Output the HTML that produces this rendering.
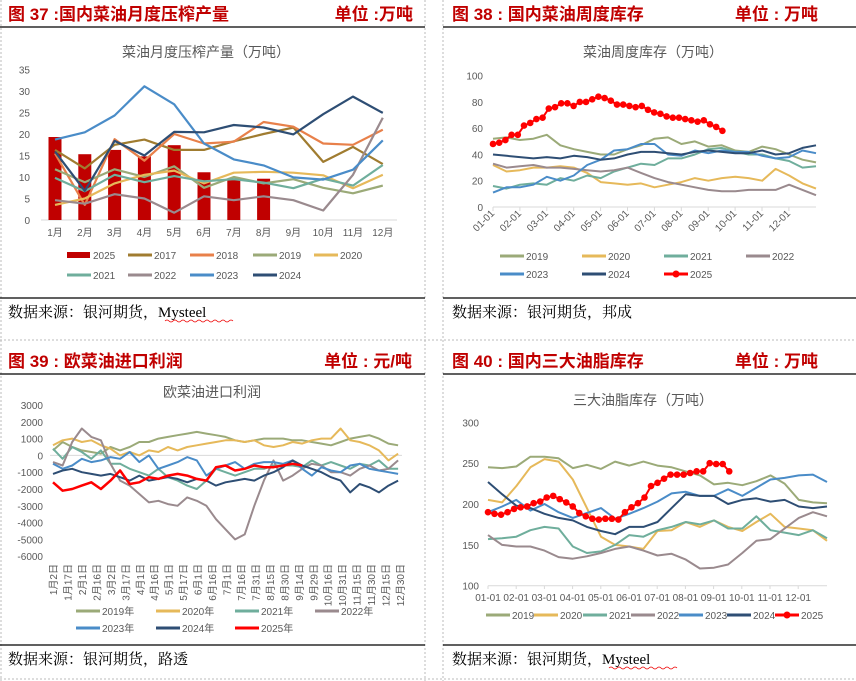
<!DOCTYPE html>
<html><head><meta charset="utf-8"><style>
body{margin:0;background:#fff;width:856px;height:681px;overflow:hidden}
svg{display:block;font-family:"Liberation Sans","Noto Sans CJK SC",sans-serif}
.hd{font-size:17px;font-weight:bold;fill:#C00000}
.src{font-size:15px;fill:#000;font-family:"Liberation Serif","Noto Serif CJK SC",serif}
.tt{font-size:14px;fill:#595959}
.ax{font-size:10px;fill:#595959}
.lg{font-size:10px;fill:#595959}
</style></head><body>
<svg id="s" width="856" height="681" viewBox="0 0 856 681">
<g stroke="#bbb" stroke-dasharray="2,2" fill="none">
<line x1="1" y1="0" x2="1" y2="681"/><line x1="443" y1="0" x2="443" y2="681"/><line x1="0" y1="340" x2="856" y2="340"/><line x1="0" y1="679" x2="856" y2="679"/><line x1="425" y1="0" x2="425" y2="681"/>
</g>
<g>
<text class="hd" x="8" y="20">图 37 :国内菜油月度压榨产量</text><text class="hd" x="413" y="20" text-anchor="end">单位 :万吨</text>
<line x1="0" y1="27" x2="425" y2="27" stroke="#000" stroke-width="1.3"/><line x1="0" y1="298" x2="425" y2="298" stroke="#000" stroke-width="1.3"/>
<text class="src" x="8" y="317">数据来源：银河期货，Mysteel</text>
</g>
<g>
<text class="hd" x="452" y="20">图 38 : 国内菜油周度库存</text><text class="hd" x="818" y="20" text-anchor="end">单位 : 万吨</text>
<line x1="443" y1="27" x2="856" y2="27" stroke="#000" stroke-width="1.3"/><line x1="443" y1="298" x2="856" y2="298" stroke="#000" stroke-width="1.3"/>
<text class="src" x="452" y="317">数据来源：银河期货，邦成</text>
</g>
<g>
<text class="hd" x="8" y="367">图 39 : 欧菜油进口利润</text><text class="hd" x="412" y="367" text-anchor="end">单位 : 元/吨</text>
<line x1="0" y1="374" x2="425" y2="374" stroke="#000" stroke-width="1.3"/><line x1="0" y1="645" x2="425" y2="645" stroke="#000" stroke-width="1.3"/>
<text class="src" x="8" y="664">数据来源：银河期货，路透</text>
</g>
<g>
<text class="hd" x="452" y="367">图 40 : 国内三大油脂库存</text><text class="hd" x="818" y="367" text-anchor="end">单位 : 万吨</text>
<line x1="443" y1="374" x2="856" y2="374" stroke="#000" stroke-width="1.3"/><line x1="443" y1="645" x2="856" y2="645" stroke="#000" stroke-width="1.3"/>
<text class="src" x="452" y="664">数据来源：银河期货，Mysteel</text>
</g>
<path d="M165 321 q2 -2 4 0 t4 0 t4 0 t4 0 t4 0 t4 0 t4 0 t4 0 t4 0 t4 0 t4 0 t4 0 t4 0 t4 0 t4 0 t4 0 t4 0" stroke="#e00" fill="none" stroke-width="0.8"/>
<path d="M609 668 q2 -2 4 0 t4 0 t4 0 t4 0 t4 0 t4 0 t4 0 t4 0 t4 0 t4 0 t4 0 t4 0 t4 0 t4 0 t4 0 t4 0 t4 0" stroke="#e00" fill="none" stroke-width="0.8"/>
</svg>
<script>
// ---------- Chart 37 data ----------
const months37 = ["1月","2月","3月","4月","5月","6月","7月","8月","9月","10月","11月","12月"];
const ticks37 = [0,5,10,15,20,25,30,35];
const bars2025 = [19.3,15.3,16.3,14.8,17.4,11.1,9.6,9.6];
const p37_2017 = [16.3,12,17.5,18.7,16.3,16.3,18.3,20,21.5,13.5,17,13];
const p37_2018 = [15.5,3.5,18.8,13.8,20,17.8,18.2,22.8,21.7,17.8,17.5,21];
const p37_2019 = [11.8,8.8,11.8,10,12.5,7.5,10,8.5,9.5,7.5,6.2,8];
const p37_2020 = [3.5,5,8.5,10.5,11.5,8.5,11,11.2,11,10.4,7.4,10.5];
const p37_2021 = [9.8,6.7,10.5,8.8,10.2,9,9.5,8.7,7.4,9.6,8,12.8];
const p37_2022 = [4.6,3.8,6,5,1.7,5.5,4.6,5.5,4.6,2.2,10.5,23.8];
const p37_2023 = [18.7,20.4,24.3,31.1,26.9,17.8,14.1,12.7,9.9,9.4,11.7,18.5];
const p37_2024 = [15.9,6.8,18.4,15,20.5,20.4,22.1,21.5,19.9,24.6,28.7,24.9];
// ---------- Chart 38 data (half-month grid, 2025 weekly) ----------
const ticks38 = [0,20,40,60,80,100];
const mlab = ["01-01","02-01","03-01","04-01","05-01","06-01","07-01","08-01","09-01","10-01","11-01","12-01"];
const p38_2019 = [52,53,51,52,55,47,44,42,40,40,44,47,52,53,48,50,46,47,43,42,46,44,40,36,34];
const p38_2020 = [32,27,28,30,30,31,30,26,19,18,17,18,15,17,19,22,20,22,23,22,20,29,24,18,14];
const p38_2021 = [16,14,17,18,17,22,20,24,22,27,30,33,32,37,37,40,44,45,42,40,40,37,35,30,31];
const p38_2022 = [33,30,31,32,30,30,29,28,27,28,30,26,22,19,17,15,13,12,12,13,13,13,17,13,9];
const p38_2023 = [11,15,15,17,23,20,24,32,36,43,44,48,48,40,39,43,41,43,42,42,39,37,38,43,41];
const p38_2024 = [40,39,38,37,38,37,39,38,36,37,40,42,42,41,40,42,43,42,41,41,43,40,41,45,47];
const p38_2025 = [48,49,51,55,55,62,64,67,68,75,76,79,79,77,80,80,82,84,83,81,78,78,77,76,77,74,72,71,69,68,68,67,66,65,66,63,61,58];
// ---------- Chart 39 data (every 10 days, thousand yuan/t) ----------
const ticks39 = [3000,2000,1000,0,-1000,-2000,-3000,-4000,-5000,-6000];
const dates39 = ["1月2日","1月17日","2月1日","2月16日","3月2日","3月17日","4月1日","4月16日","5月1日","5月17日","6月1日","6月16日","7月1日","7月16日","7月31日","8月15日","8月30日","9月14日","9月29日","10月16日","10月31日","11月15日","11月30日","12月15日","12月30日"];
const p39_2019 = [0.3,0.8,0.5,0.3,0.2,0.1,0.5,0.3,0.5,0.8,0.8,1.0,1.1,1.2,1.3,1.4,1.3,1.2,1.1,0.9,0.8,0.9,1.0,1.0,1.0,0.9,0.9,0.8,0.7,0.6,0.8,1.0,1.1,1.2,1.0,0.7,0.6];
const p39_2020 = [0.6,0.9,1.0,0.8,0.9,0.6,0.4,0.0,0.2,0.0,0.3,0.2,0.5,0.3,0.5,0.6,0.7,0.8,0.9,0.9,0.8,0.9,0.6,0.5,0.6,0.8,0.7,0.9,1.0,1.0,1.6,0.9,0.8,0.6,0.3,-0.3,0.1];
const p39_2021 = [0.4,-0.2,0.5,0.2,-0.2,0.3,-0.5,-0.5,-0.8,-1.0,-1.2,-0.8,-1.3,-1.5,-1.8,-2.0,-1.5,-0.8,-1.0,-1.2,-1.0,-0.8,-0.8,-0.6,-0.6,-0.6,-0.7,-0.3,-0.6,-0.4,-0.6,-0.8,-0.5,-0.6,-0.3,-0.8,-0.8];
const p39_2022 = [-0.4,-0.6,0.8,1.6,1.1,0.9,-0.5,-1.5,-1.8,-2.3,-2.8,-2.7,-2.9,-3.0,-2.5,-2.7,-3.0,-3.8,-4.4,-5.0,-4.7,-3.0,-1.5,-0.3,-1.5,-1.2,-0.8,-0.5,-0.6,-1.0,-1.0,-1.2,-0.8,-0.6,-0.9,-0.8,-0.3];
const p39_2023 = [-0.5,-0.8,-0.6,-0.2,-0.4,-0.3,-0.1,-0.2,0.2,-0.4,0.0,-0.8,-0.6,-0.4,-0.1,-0.3,-1.2,-0.8,-0.6,-0.4,-0.8,-0.5,-0.4,-0.4,-0.5,-0.3,-0.8,-1.2,-0.7,-0.9,-1.0,-0.6,-0.5,-0.8,-0.9,-1.0,-1.1];
const p39_2024 = [-1.1,-0.9,-0.8,-1.0,-1.1,-1.2,-1.1,-1.3,-1.5,-1.2,-1.5,-1.4,-1.3,-1.4,-1.6,-1.4,-1.5,-1.8,-1.6,-1.5,-1.4,-1.5,-1.2,-1.0,-0.7,-0.3,-0.6,-0.8,-1.0,-1.3,-1.5,-2.2,-1.7,-1.9,-2.2,-1.8,-1.5];
const p39_2025 = [-1.6,-2.1,-2.0,-1.8,-1.6,-2.0,-1.5,-0.9,-1.7,-1.6,-1.3,-1.4,-1.2,-1.1,-1.2,-1.4,-1.5,-0.7,-0.6,-0.9,-0.8,-0.6,-0.7,-0.7,-0.6,-0.5,-0.6];
// ---------- Chart 40 data ----------
const ticks40 = [100,150,200,250,300];
const p40_2019 = [245,244,246,258,258,256,244,248,243,252,247,252,247,245,240,235,224,226,223,228,235,225,205,202,201];
const p40_2020 = [205,202,222,245,255,252,230,195,160,150,148,145,167,168,178,172,180,172,167,178,188,172,170,168,155];
const p40_2021 = [157,158,160,168,172,170,148,140,142,150,162,160,168,172,178,175,180,170,170,185,168,165,162,168,158];
const p40_2022 = [162,150,148,148,143,135,133,136,140,145,148,143,137,139,132,121,122,126,140,155,157,170,183,190,185];
const p40_2023 = [190,197,205,192,200,190,183,189,195,182,188,195,203,213,215,210,210,218,210,220,230,232,235,236,227];
const p40_2024 = [227,212,198,195,188,183,180,172,167,163,172,172,178,195,212,210,210,200,205,207,203,205,197,195,197];
const p40_2025 = [190,188,187,190,194,196,197,201,203,208,210,206,202,197,189,185,182,181,182,182,181,190,196,201,208,222,226,231,236,236,236,238,240,240,250,249,249,240];

const C = {y2017:"#A07C30",y2018:"#E8804A",y2019:"#9BAA78",y2020:"#E6B95A",y2021:"#6FAE9C",y2022:"#9A8A8E",y2023:"#4A8CC8",y2024:"#2E4E74",y2025:"#FF0000"};
const svg = document.getElementById('s');
const NS = "http://www.w3.org/2000/svg";
function mk(tag, attrs, parent){const e=document.createElementNS(NS,tag);for(const k in attrs)e.setAttribute(k,attrs[k]);(parent||svg).appendChild(e);return e;}
function txt(s, attrs, parent){const e=mk('text',attrs,parent);e.textContent=s;return e;}
function line(vals, xf, yf, color, w, name, g){
  const pts=vals.map((v,i)=>xf(i).toFixed(1)+","+yf(v).toFixed(1)).join(" ");
  const e=mk('polyline',{points:pts,fill:"none",stroke:color,"stroke-width":w,"stroke-linejoin":"round"},g);
  
  
  return e;
}
function dots(vals, xf, yf, color, r, g){
  vals.forEach((v,i)=>{const c=mk('circle',{cx:xf(i),cy:yf(v),r:r,fill:color},g);
    
    });
}
function legend(g, x, y, label, color, w, kind){
  if(kind==='bar') mk('rect',{x:x,y:y-3,width:23,height:6,fill:color},g);
  else mk('line',{x1:x,y1:y,x2:x+24,y2:y,stroke:color,"stroke-width":3},g);
  if(kind==='dot') mk('circle',{cx:x+12,cy:y,r:3.5,fill:color},g);
  const t=txt(label,{class:"lg",x:x+26,y:y+4},g);
  
  
}
function group(name){const g=mk('g',{});return g;}

// ===== Chart 37 =====
(function(){
  const g=group('chart-fig37');
  const x=i=>55+i*29.8, y=v=>220-v*4.3;
  txt("菜油月度压榨产量（万吨）",{class:"tt",x:206,y:57,"text-anchor":"middle"},g);
  ticks37.forEach(t=>txt(String(t),{class:"ax",x:30,y:y(t)+4,"text-anchor":"end"},g));
  mk('line',{x1:41,y1:220,x2:397,y2:220,stroke:"#d9d9d9","stroke-width":1},g);
  months37.forEach((m,i)=>txt(m,{class:"ax",x:x(i),y:236,"text-anchor":"middle"},g));
  bars2025.forEach((v,i)=>{const r=mk('rect',{x:x(i)-6.5,y:y(v),width:13,height:220-y(v),fill:"#C00000"},g);
    });
  const S=[[p37_2017,C.y2017,"2017"],[p37_2018,C.y2018,"2018"],[p37_2019,C.y2019,"2019"],[p37_2020,C.y2020,"2020"],[p37_2021,C.y2021,"2021"],[p37_2022,C.y2022,"2022"],[p37_2023,C.y2023,"2023"],[p37_2024,C.y2024,"2024"]];
  S.forEach(s=>line(s[0],x,y,s[1],2.2,'line-'+s[2],g));
  legend(g,67,255,"2025","#C00000",0,'bar');
  [[128,255,"2017",C.y2017],[190,255,"2018",C.y2018],[253,255,"2019",C.y2019],[314,255,"2020",C.y2020],[67,275,"2021",C.y2021],[128,275,"2022",C.y2022],[190,275,"2023",C.y2023],[253,275,"2024",C.y2024]].forEach(a=>legend(g,a[0],a[1],a[2],a[3]));
})();

// ===== Chart 38 =====
(function(){
  const g=group('chart-fig38');
  const xh=i=>493+i*(323/24), xw=i=>493+i*6.2, y=v=>207-v*1.313;
  txt("菜油周度库存（万吨）",{class:"tt",x:653,y:57,"text-anchor":"middle"},g);
  ticks38.forEach(t=>txt(String(t),{class:"ax",x:483,y:y(t)+4,"text-anchor":"end"},g));
  mk('line',{x1:493,y1:207,x2:816,y2:207,stroke:"#d9d9d9"},g);
  mlab.forEach((m,i)=>{const px=493+i*26.9;mk('line',{x1:px,y1:207,x2:px,y2:211,stroke:"#d9d9d9"},g);
    txt(m,{class:"ax",x:px+2,y:214,"text-anchor":"end",transform:`rotate(-45 ${px+2} 214)`},g);});
  [[p38_2019,C.y2019,"2019"],[p38_2020,C.y2020,"2020"],[p38_2021,C.y2021,"2021"],[p38_2022,C.y2022,"2022"],[p38_2023,C.y2023,"2023"],[p38_2024,C.y2024,"2024"]].forEach(s=>line(s[0],xh,y,s[1],2,'line-'+s[2],g));
  line(p38_2025,xw,y,C.y2025,2,'line-2025',g); dots(p38_2025,xw,y,C.y2025,3.3,g);
  [[500,256,"2019",C.y2019],[582,256,"2020",C.y2020],[664,256,"2021",C.y2021],[746,256,"2022",C.y2022],[500,274,"2023",C.y2023],[582,274,"2024",C.y2024]].forEach(a=>legend(g,a[0],a[1],a[2],a[3]));
  legend(g,664,274,"2025",C.y2025,0,'dot');
})();

// ===== Chart 39 =====
(function(){
  const g=group('chart-fig39');
  const x=i=>53+i*10*(347/362), y=v=>455.4-v*16.8;
  txt("欧菜油进口利润",{class:"tt",x:212,y:397,"text-anchor":"middle"},g);
  ticks39.forEach(t=>txt(String(t),{class:"ax",x:43,y:y(t/1000)+4,"text-anchor":"end"},g));
  mk('line',{x1:50,y1:y(0),x2:402,y2:y(0),stroke:"#d9d9d9"},g);
  dates39.forEach((d,k)=>{const px=53+k*14.46;txt(d,{class:"ax",x:px+4,y:564,"text-anchor":"end",transform:`rotate(-90 ${px+4} 564)`},g);});
  [[p39_2019,C.y2019,"2019"],[p39_2020,C.y2020,"2020"],[p39_2021,C.y2021,"2021"],[p39_2022,C.y2022,"2022"],[p39_2023,C.y2023,"2023"],[p39_2024,C.y2024,"2024"]].forEach(s=>line(s[0],x,y,s[1],2,'line-'+s[2],g));
  line(p39_2025,x,y,C.y2025,2.5,'line-2025',g);
  [[76,611,"2019年",C.y2019],[156,611,"2020年",C.y2020],[235,611,"2021年",C.y2021],[315,611,"2022年",C.y2022],[76,628,"2023年",C.y2023],[156,628,"2024年",C.y2024],[235,628,"2025年",C.y2025]].forEach(a=>legend(g,a[0],a[1],a[2],a[3]));
})();

// ===== Chart 40 =====
(function(){
  const g=group('chart-fig40');
  const xh=i=>488+i*(339/24), xw=i=>488+i*6.52, y=v=>585.7-(v-100)*0.8167;
  txt("三大油脂库存（万吨）",{class:"tt",x:643,y:405,"text-anchor":"middle"},g);
  ticks40.forEach(t=>txt(String(t),{class:"ax",x:479,y:y(t)+4,"text-anchor":"end"},g));
  mk('line',{x1:488,y1:585.7,x2:827,y2:585.7,stroke:"#d9d9d9"},g);
  mlab.forEach((m,i)=>{const px=488+i*28.2;mk('line',{x1:px,y1:585.7,x2:px,y2:589,stroke:"#d9d9d9"},g);
    txt(m,{class:"ax",x:px,y:601,"text-anchor":"middle"},g);});
  [[p40_2019,C.y2019,"2019"],[p40_2020,C.y2020,"2020"],[p40_2021,C.y2021,"2021"],[p40_2022,C.y2022,"2022"],[p40_2023,C.y2023,"2023"],[p40_2024,C.y2024,"2024"]].forEach(s=>line(s[0],xh,y,s[1],2,'line-'+s[2],g));
  line(p40_2025,xw,y,C.y2025,2,'line-2025',g); dots(p40_2025,xw,y,C.y2025,3.3,g);
  [[486,615,"2019",C.y2019],[534,615,"2020",C.y2020],[583,615,"2021",C.y2021],[631,615,"2022",C.y2022],[679,615,"2023",C.y2023],[727,615,"2024",C.y2024]].forEach(a=>legend(g,a[0],a[1],a[2],a[3]));
  legend(g,775,615,"2025",C.y2025,0,'dot');
})();
</script>
</body></html>
